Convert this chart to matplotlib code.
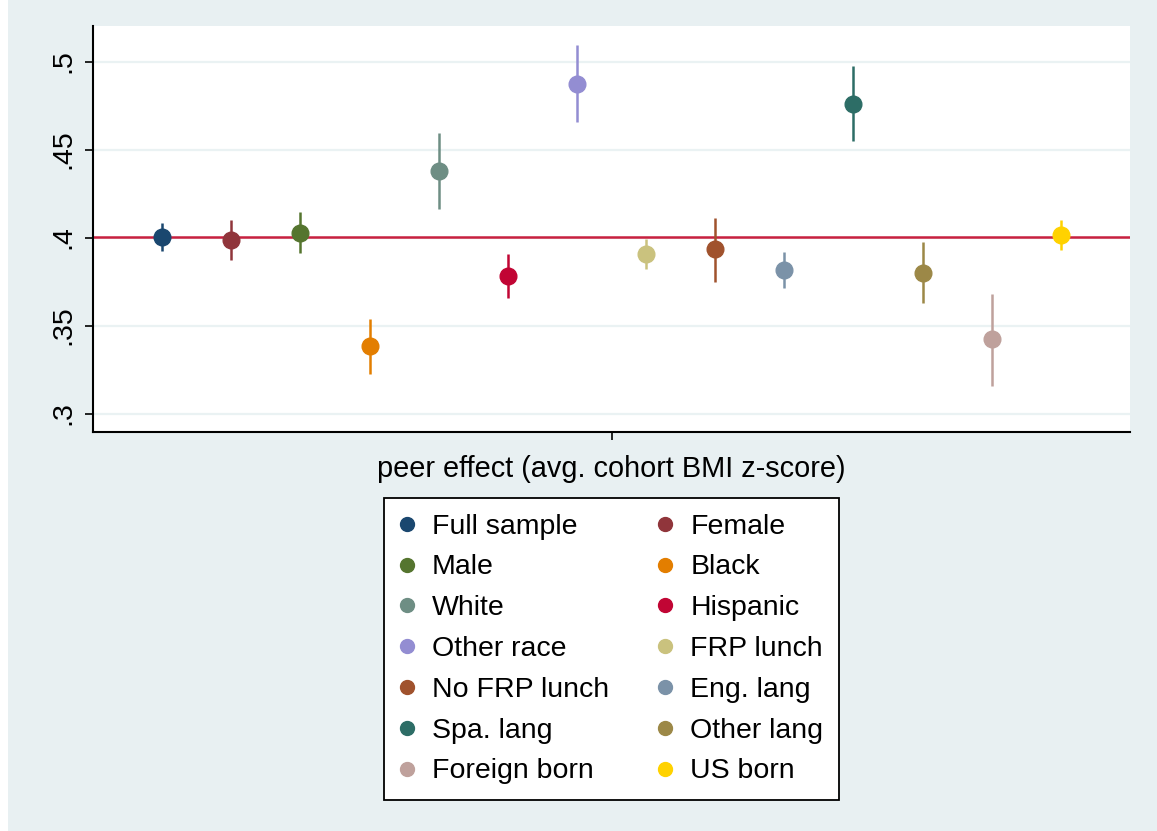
import numpy as np
import matplotlib
matplotlib.use("Agg")
import matplotlib.pyplot as plt
from matplotlib.lines import Line2D
from matplotlib.patches import Rectangle

plt.rcParams['font.family'] = ['Liberation Sans', 'DejaVu Sans']

groups = ['Full sample', 'Female', 'Male', 'Black', 'White', 'Hispanic', 'Other race',
          'FRP lunch', 'No FRP lunch', 'Eng. lang', 'Spa. lang', 'Other lang',
          'Foreign born', 'US born']
est = [0.4001, 0.3986, 0.4027, 0.3383, 0.4380, 0.3783, 0.4874,
       0.3904, 0.3933, 0.3815, 0.4759, 0.3800, 0.3423, 0.4014]
ci_lo = [0.3923, 0.3872, 0.3912, 0.3224, 0.4164, 0.3656, 0.4656,
         0.3821, 0.3749, 0.3713, 0.4548, 0.3628, 0.3158, 0.3929]
ci_hi = [0.4083, 0.4099, 0.4145, 0.3537, 0.4595, 0.3908, 0.5094,
         0.3991, 0.4111, 0.3919, 0.4973, 0.3974, 0.3681, 0.4099]
colors = ['#1a476f', '#90353b', '#55752f', '#e37e00', '#6e8e84', '#c10534', '#938dd2',
          '#cac27e', '#a0522d', '#7b92a8', '#2d6d66', '#9c8847', '#bfa19c', '#ffd200']
yticks = [0.3, 0.35, 0.4, 0.45, 0.5]
ytick_labels = ['.3', '.35', '.4', '.45', '.5']
xlabel = 'peer effect (avg. cohort BMI z-score)'

bg = '#e8f0f2'
fig = plt.figure(figsize=(11.57, 8.31), dpi=100, facecolor=bg)
fig.patches.append(Rectangle((0, 0), 8 / 1157, 1, transform=fig.transFigure,
                             facecolor='white', edgecolor='none', zorder=-1))

ax = fig.add_axes([93 / 1157, 1 - 432 / 831, 1037 / 1157, 406 / 831])
ax.set_facecolor('white')

for y in yticks:
    ax.axhline(y, color='#eaf2f3', lw=1.6, zorder=0)
ax.axhline(est[0], color='#c8203f', lw=1.8, zorder=1)

for i in range(len(groups)):
    ax.errorbar(i, est[i], yerr=[[est[i] - ci_lo[i]], [ci_hi[i] - est[i]]],
                fmt='o', color=colors[i], ms=12, elinewidth=1.8, capsize=0, zorder=3)

ax.set_xlim(-1, len(groups))
ax.set_ylim(0.2895, 0.5202)
ax.set_yticks(yticks)
ax.set_yticklabels(ytick_labels, rotation=90, va='center', fontsize=20.5)
ax.set_xticks([(len(groups) - 1) / 2])
ax.set_xticklabels([xlabel], fontsize=20.8)
ax.tick_params(axis='y', length=6, width=1.2, pad=6)
ax.tick_params(axis='x', length=6, width=1.2, pad=10.3)
for s in ['top', 'right']:
    ax.spines[s].set_visible(False)
for s in ['left', 'bottom']:
    ax.spines[s].set_linewidth(1.5)

# legend filled row by row, as in the original
handles = [Line2D([], [], ls='none', marker='o', ms=10, color=c) for c in colors]
order = list(range(0, len(groups), 2)) + list(range(1, len(groups), 2))
leg = fig.legend([handles[k] for k in order], [groups[k] for k in order],
                 ncol=2, loc='upper center', bbox_to_anchor=(611.5 / 1157, 1 - 498 / 831),
                 borderaxespad=0, fontsize=20.5, frameon=True, fancybox=False,
                 edgecolor='black', framealpha=1, handlelength=0.5, handletextpad=0.63,
                 columnspacing=1.73, labelspacing=0.52, borderpad=0.55)
leg.get_frame().set_linewidth(1.3)

fig.savefig('out.png', dpi=100, facecolor=bg)
